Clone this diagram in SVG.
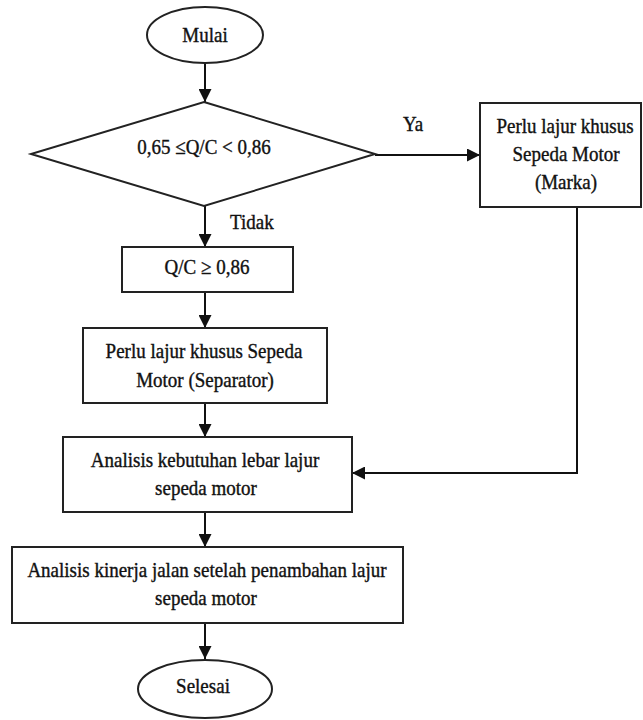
<svg xmlns="http://www.w3.org/2000/svg" width="643" height="720" viewBox="0 0 643 720" font-family="'Liberation Serif', 'DejaVu Serif', serif">
  <defs>
    <marker id="arrow" markerUnits="userSpaceOnUse" markerWidth="14" markerHeight="13" refX="13" refY="6.5" orient="auto">
      <path d="M0,0 L13,6.5 L0,13 z" fill="#111"/>
    </marker>
    <style>
      .shape { fill: #fff; stroke: #222; stroke-width: 2; }
      .conn { fill: none; stroke: #111; stroke-width: 2; }
      .arr { marker-end: url(#arrow); }
      .t { font-family: 'Liberation Serif', 'DejaVu Serif', serif; font-size: 19px; fill: #111; stroke: #111; stroke-width: 0.35; }
      .c { text-anchor: middle; }
    </style>
  </defs>
  <rect width="643" height="720" fill="#fff"/>

  <g id="connectors">
    <line class="conn arr" x1="205" y1="63" x2="205" y2="102"/>
    <line class="conn arr" x1="375" y1="155" x2="480" y2="155"/>
    <line class="conn arr" x1="205" y1="206" x2="205" y2="247"/>
    <line class="conn arr" x1="205" y1="292" x2="205" y2="328"/>
    <line class="conn arr" x1="205" y1="403" x2="205" y2="437"/>
    <polyline class="conn arr" points="577,207 577,473 352,473"/>
    <line class="conn arr" x1="205" y1="512" x2="205" y2="547"/>
    <line class="conn arr" x1="205" y1="623" x2="205" y2="659"/>
    <text class="t" transform="translate(403,131) scale(1,1.1)">Ya</text>
    <text class="t" transform="translate(230,229) scale(1,1.1)">Tidak</text>
  </g>

  <g id="mulai">
    <ellipse class="shape" cx="205" cy="35" rx="58" ry="28"/>
    <text class="t c" transform="translate(205,42) scale(1,1.1)">Mulai</text>
  </g>

  <g id="decision">
    <polygon class="shape" points="204,102 375,154 204,206 31,154"/>
    <text class="t c" transform="translate(204,154) scale(1,1.1)">0,65 ≤Q/C &lt; 0,86</text>
  </g>

  <g id="marka">
    <rect class="shape" x="480" y="103" width="161" height="104"/>
    <text class="t c" transform="translate(565,133) scale(1,1.1)">Perlu lajur khusus</text>
    <text class="t c" transform="translate(566,161) scale(1,1.1)">Sepeda Motor</text>
    <text class="t c" transform="translate(566,189) scale(1,1.1)">(Marka)</text>
  </g>

  <g id="qc">
    <rect class="shape" x="122" y="247" width="171" height="45"/>
    <text class="t c" transform="translate(207,274) scale(1,1.1)">Q/C ≥ 0,86</text>
  </g>

  <g id="separator">
    <rect class="shape" x="83" y="328" width="244" height="75"/>
    <text class="t c" transform="translate(204,358) scale(1,1.1)">Perlu lajur khusus  Sepeda</text>
    <text class="t c" transform="translate(205,387) scale(1,1.1)">Motor (Separator)</text>
  </g>

  <g id="analisis-lebar">
    <rect class="shape" x="63" y="437" width="289" height="75"/>
    <text class="t c" transform="translate(205,467) scale(1,1.1)">Analisis  kebutuhan lebar lajur</text>
    <text class="t c" transform="translate(206,495) scale(1,1.1)">sepeda motor</text>
  </g>

  <g id="analisis-kinerja">
    <rect class="shape" x="12" y="547" width="391" height="76"/>
    <text class="t c" transform="translate(207,577) scale(1,1.1)">Analisis  kinerja jalan setelah penambahan lajur</text>
    <text class="t c" transform="translate(206,605) scale(1,1.1)">sepeda motor</text>
  </g>

  <g id="selesai">
    <ellipse class="shape" cx="205" cy="689" rx="67" ry="29"/>
    <text class="t c" transform="translate(203,693) scale(1,1.1)">Selesai</text>
  </g>
</svg>
